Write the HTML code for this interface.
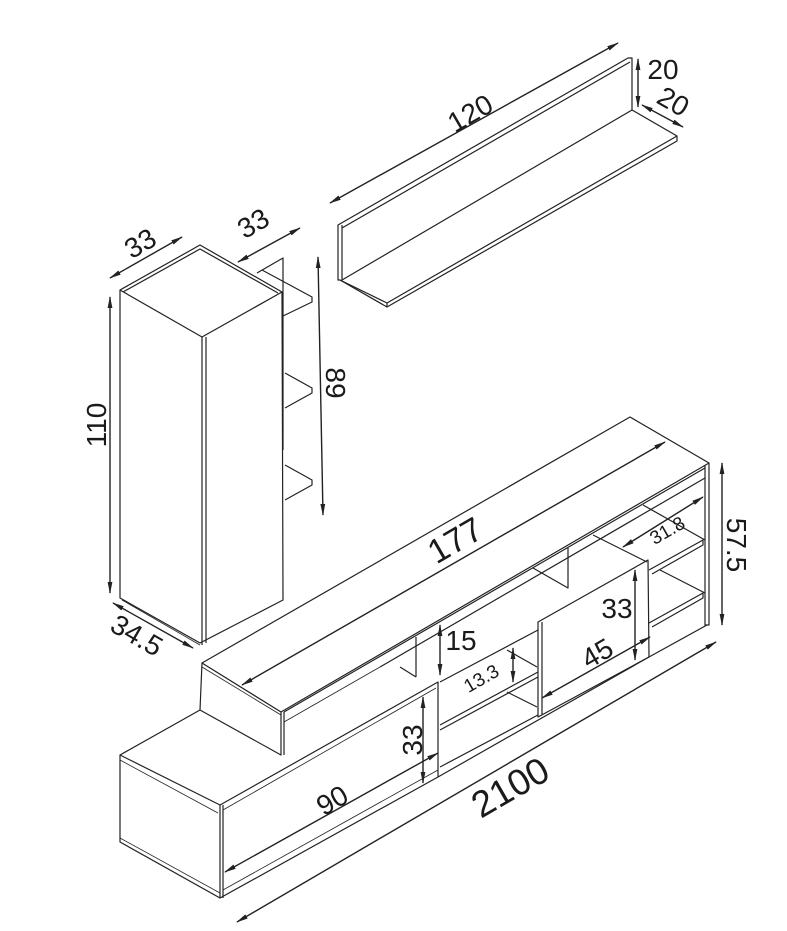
<!DOCTYPE html>
<html><head><meta charset="utf-8"><style>
html,body{margin:0;padding:0;background:#fff;}
svg{display:block;}
text{font-family:"Liberation Sans",Arial,sans-serif;fill:#1a1a1a;}
</style></head><body>
<svg width="787" height="931" viewBox="0 0 787 931" xmlns="http://www.w3.org/2000/svg">
<defs>
<marker id="a" viewBox="0 0 12 6" refX="11" refY="3" markerWidth="12" markerHeight="6" markerUnits="userSpaceOnUse" orient="auto-start-reverse">
<path d="M0,0.6 L12,3 L0,5.4 Z" fill="#222"/>
</marker>
</defs>
<g fill="none" stroke="#222" stroke-width="1.2" stroke-linejoin="round">
<!-- wall shelf -->
<path d="M338,225 L628,58 L632,58 L632,110 L677,136 L677,141 L387,307 L340,280 L338,280 Z"/>
<path d="M342,225 L342,280 L632,110"/>
<path d="M342,228 L630,62"/>
<path d="M340,280 L387,303 L677,136"/>
<path d="M387,303 L387,307"/>

<!-- tall cabinet -->
<path d="M120,290 L200,245 L282,292 L202,337 Z"/>
<path d="M123,292 L200,249 L278,293"/>
<path d="M120,290 L120,598 L200,643 L283,600 L282,292"/>
<path d="M202,337 L202,645 M206,337 L206,643"/>
<path d="M122,600 L200,645" stroke-width="0.8"/>
<!-- side shelves -->
<path d="M257,273 L283,258 L283,450"/>
<path d="M262,270 L312,297 L312,302 L283,316"/>
<path d="M285,373 L312,388 L312,393 L285,408"/>
<path d="M285,465 L312,480 L312,485 L285,500"/>

<!-- TV unit: lower left box -->
<path d="M120,755 L200,710 M120,755 L220,805 L220,898 L120,842 Z"/>
<path d="M120,760 L218,813" stroke-width="0.8"/>
<path d="M120,838 L220,893" stroke-width="0.8"/>
<path d="M223,805 L223,898"/>
<!-- upper left block -->
<path d="M202,663 L200,710 L281,755 L281,712 Z"/>
<path d="M202,667 L281,715" stroke-width="0.8"/>
<path d="M284,712 L284,755"/>
<!-- top board -->
<path d="M202,663 L630,417 L709,463 L281,712"/>
<path d="M284,712 L705,468"/>
<path d="M380,667 L705,478"/>
<path d="M284,722 L380,667" stroke-width="0.8"/>
<path d="M705,465 L705,625 L709,625 L709,463"/>
<!-- front door left & base -->
<path d="M220,805 L438,682 L438,777"/>
<path d="M223,810 L436,688" stroke-width="0.8"/>
<path d="M220,898 L438,777 L649,657 L707,625"/>
<path d="M223,890 L438,770" stroke-width="0.8"/>
<!-- upper openings -->
<path d="M416,637 L416,677 M400,667 L416,677"/>
<path d="M568,548 L568,588 L533,568"/>
<path d="M593,535 L647,562 M643,505 L705,540"/>
<!-- middle compartment -->
<path d="M440,682 L538,630 M440,725 L538,672 M440,767 L538,715 M440,730 L538,677"/>
<path d="M507,650 L537,667 M507,692 L537,707"/>
<!-- right door -->
<path d="M538,622 L648,560 L649,657 L538,717 Z"/>
<path d="M542,622 L542,715"/>
<!-- right shelves -->
<path d="M649,570 L703,540 L703,545 L652,574 M649,623 L703,593 L703,598 L652,627"/>
<path d="M660,570 L705,593"/>
</g>

<!-- dimension arrows -->
<g stroke="#222" stroke-width="1.4" fill="none" marker-start="url(#a)" marker-end="url(#a)">
<line x1="330" y1="203" x2="618" y2="43"/>
<line x1="638" y1="59" x2="638" y2="107"/>
<line x1="642" y1="105" x2="683" y2="127"/>
<line x1="110" y1="278" x2="182" y2="237"/>
<line x1="238" y1="262" x2="300" y2="228"/>
<line x1="110" y1="297" x2="110" y2="593"/>
<line x1="113" y1="603" x2="193" y2="648"/>
<line x1="318" y1="257" x2="323" y2="515"/>
<line x1="242" y1="685" x2="665" y2="442"/>
<line x1="440" y1="625" x2="440" y2="675"/>
<line x1="513" y1="648" x2="513" y2="682"/>
<line x1="423" y1="697" x2="423" y2="783"/>
<line x1="225" y1="872" x2="438" y2="753"/>
<line x1="237" y1="922" x2="716" y2="642"/>
<line x1="542" y1="698" x2="650" y2="637"/>
<line x1="635" y1="570" x2="635" y2="660"/>
<line x1="623" y1="547" x2="703" y2="497"/>
<line x1="722" y1="463" x2="722" y2="625"/>
</g>

<!-- labels -->
<g font-size="28">
<text x="470" y="123" text-anchor="middle" transform="rotate(-30 470 113)">120</text>
<text x="663" y="79" text-anchor="middle">20</text>
<text x="673" y="111" text-anchor="middle" transform="rotate(30 673 102)">20</text>
<text x="140" y="253" text-anchor="middle" transform="rotate(-30 140 243)">33</text>
<text x="253" y="233" text-anchor="middle" transform="rotate(-30 253 223)">33</text>
<text x="96" y="435" text-anchor="middle" transform="rotate(-90 96 425)">110</text>
<text x="137" y="645" text-anchor="middle" transform="rotate(30 137 635)">34.5</text>
<text x="336" y="393" text-anchor="middle" transform="rotate(90 336 383)">89</text>
<text x="455" y="552" text-anchor="middle" font-size="34" transform="rotate(-30 455 540)">177</text>
<text x="461" y="650" text-anchor="middle">15</text>
<text x="412" y="750" text-anchor="middle" transform="rotate(-90 412 740)">33</text>
<text x="332" y="810" text-anchor="middle" transform="rotate(-30 332 800)">90</text>
<text x="510" y="800" text-anchor="middle" font-size="37" transform="rotate(-30 510 787)">2100</text>
<text x="597" y="663" text-anchor="middle" transform="rotate(-30 597 653)">45</text>
<text x="617" y="618" text-anchor="middle">33</text>
<text x="737" y="555" text-anchor="middle" transform="rotate(90 737 545)">57.5</text>
<text x="481" y="685" text-anchor="middle" font-size="19" transform="rotate(-30 481 678)">13.3</text>
<text x="667" y="537" text-anchor="middle" font-size="19" transform="rotate(-30 667 530)">31.8</text>
</g>
</svg>
</body></html>
